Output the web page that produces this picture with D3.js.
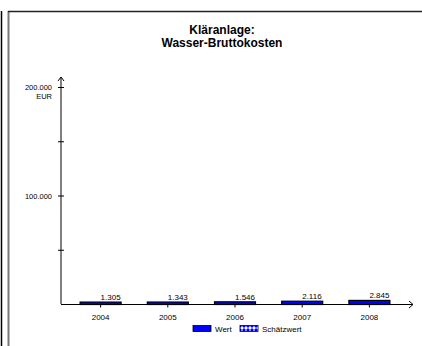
<!DOCTYPE html>
<html><head><meta charset="utf-8">
<script src="https://cdn.jsdelivr.net/npm/d3@7"></script>
<style>html,body{margin:0;padding:0;background:#fff;}svg{display:block;font-family:"Liberation Sans",Arial,sans-serif;}</style>
</head><body>
<script>
const categories = ["2004","2005","2006","2007","2008"];
const values = [1305, 1343, 1546, 2116, 2845];
const valueLabels = ["1.305","1.343","1.546","2.116","2.845"];
const yTickValues = [0, 50000, 100000, 150000, 200000];
const yTickLabels = {100000: "100.000", 200000: "200.000"};
const titleLines = ["Kläranlage:", "Wasser-Bruttokosten"];
const legendItems = ["Wert", "Schätzwert"];

const W = 422, H = 346;
const svg = d3.select("body").append("svg").attr("width", W).attr("height", H);

const defs = svg.append("defs");
const pat = defs.append("pattern").attr("id","hatch").attr("patternUnits","userSpaceOnUse")
  .attr("width",4).attr("height",4);
pat.append("rect").attr("width",4).attr("height",4).attr("fill","#fff");
pat.append("path").attr("d","M0,0L2,2L0,4Z M4,0L2,2L4,4Z").attr("fill","#0000ff");

// frame
svg.append("line").attr("x1",1.5).attr("x2",1.5).attr("y1",11).attr("y2",H).attr("stroke","#000").attr("stroke-width",1.5);
svg.append("line").attr("x1",8.5).attr("x2",8.5).attr("y1",11).attr("y2",H).attr("stroke","#777").attr("stroke-width",2);
svg.append("line").attr("x1",8).attr("x2",W).attr("y1",11.5).attr("y2",11.5).attr("stroke","#222").attr("stroke-width",1.5);

// title
const title = svg.append("text").attr("x",222).attr("text-anchor","middle")
  .attr("font-size",12).attr("font-weight","bold").attr("fill","#000");
titleLines.forEach((t,i)=> title.append("tspan").attr("x",222).attr("y",33.5+i*13).text(t));

const x = d3.scaleBand().domain(categories).range([67, 403]).paddingInner(0.39).paddingOuter(0.195);
const y = d3.scaleLinear().domain([0, 200000]).range([304, 87]);

// y axis
const x0 = 61;
svg.append("line").attr("x1",x0).attr("x2",x0).attr("y1",y(0)).attr("y2",77).attr("stroke","#808080").attr("stroke-width",2);
svg.append("path").attr("d",`M${x0-3},${81}L${x0},${77}L${x0+3},${81}`).attr("fill","none").attr("stroke","#000").attr("stroke-width",1);
const yAxis = d3.axisLeft(y).tickValues(yTickValues).tickSize(0).tickFormat(d=>yTickLabels[d]||"");
const yg = svg.append("g").attr("transform",`translate(${x0},0)`).call(yAxis);
yg.select(".domain").remove();
yg.selectAll(".tick").filter(d=>d>0).append("line").attr("x1",-3).attr("x2",3).attr("stroke","#000").attr("stroke-width",1);
yg.selectAll(".tick text").attr("x",-9).attr("font-size",7.5).attr("fill","#000").attr("font-family","Liberation Sans, Arial, sans-serif").attr("dy","0.35em");
svg.append("text").attr("x",52).attr("y",99).attr("text-anchor","end").attr("font-size",7.5).text("EUR");

// bars
svg.selectAll("rect.bar").data(categories).join("rect").attr("class","bar")
  .attr("x", d=>x(d)).attr("width", x.bandwidth())
  .attr("y", (d,i)=>y(values[i])-0.5).attr("height",(d,i)=>y(0)-y(values[i])+1)
  .attr("fill","#0000ff").attr("stroke","#000").attr("stroke-width",1.2);

svg.selectAll("text.val").data(categories).join("text").attr("class","val")
  .attr("x", d=>x(d)+x.bandwidth()/2).attr("y",(d,i)=>y(values[i])-2.5)
  .attr("font-size",8).attr("fill","#000").text((d,i)=>valueLabels[i]);

// x axis
svg.append("line").attr("x1",x0).attr("x2",413).attr("y1",304.5).attr("y2",304.5).attr("stroke","#000").attr("stroke-width",1);
svg.append("path").attr("d",`M409,301L413,304.5L409,308`).attr("fill","none").attr("stroke","#000");
const xAxis = d3.axisBottom(x).tickSize(3).tickPadding(7);
const xg = svg.append("g").attr("transform","translate(0,304.5)").call(xAxis);
xg.select(".domain").remove();
xg.selectAll(".tick line").attr("stroke","#000");
xg.selectAll(".tick text").attr("font-size",8).attr("fill","#000").attr("font-family","Liberation Sans, Arial, sans-serif");

// legend
const lg = svg.append("g");
lg.append("rect").attr("x",193).attr("y",325.5).attr("width",18).attr("height",6).attr("fill","#0000ff").attr("stroke","#000").attr("stroke-width",0.8);
lg.append("text").attr("x",215).attr("y",331.5).attr("font-size",8).text(legendItems[0]);
lg.append("rect").attr("x",240).attr("y",325.5).attr("width",18).attr("height",6).attr("fill","url(#hatch)").attr("stroke","#000").attr("stroke-width",0.8);
lg.append("text").attr("x",262).attr("y",331.5).attr("font-size",8).text(legendItems[1]);
</script>
</body></html>
